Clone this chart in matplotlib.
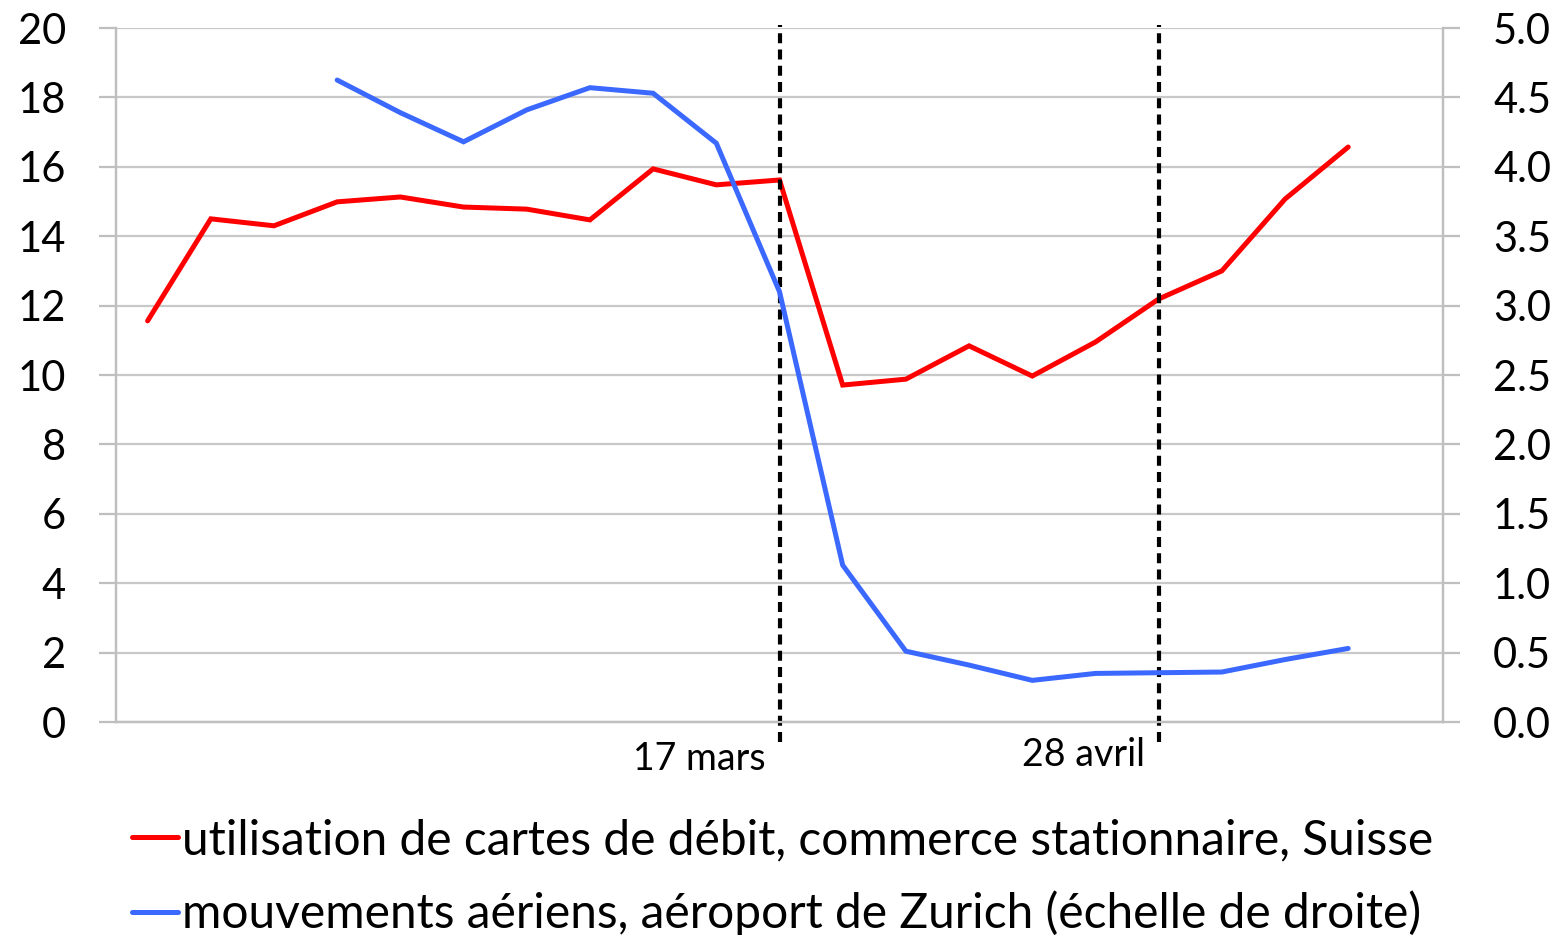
import numpy as np
import matplotlib
matplotlib.use("Agg")
import matplotlib.pyplot as plt
from matplotlib.ticker import FormatStrFormatter

plt.rcParams["font.family"] = ["Lato", "DejaVu Sans"]

# semaines (21 catégories, la dernière vide)
semaines = np.arange(21)
cartes_debit = [11.56, 14.5, 14.3, 14.99, 15.13, 14.84, 14.78, 14.47, 15.94, 15.48,
                15.62, 9.71, 9.88, 10.84, 9.97, 10.95, 12.19, 13.0, 15.07, 16.57, np.nan]
mouvements_aeriens = [np.nan, np.nan, np.nan, 4.625, 4.39, 4.18, 4.41, 4.57, 4.53, 4.17,
                      3.10, 1.13, 0.51, 0.41, 0.30, 0.35, 0.355, 0.36, 0.45, 0.53, np.nan]
evenements = [10, 16]
labels_evenements = ["17 mars", "28 avril"]
decalage_labels = [27, 24]

label_rouge = "utilisation de cartes de débit, commerce stationnaire, Suisse"
label_bleu = "mouvements aériens, aéroport de Zurich (échelle de droite)"

gris_axe = "#bfbfbf"
gris_grille = "#c8c8c8"

fig = plt.figure(figsize=(15.65, 9.35), dpi=100)
ax = fig.add_axes([116 / 1565, 1 - 722 / 935, (1443 - 116) / 1565, (722 - 28) / 935])
ax2 = ax.twinx()

l1, = ax.plot(semaines, cartes_debit, color="#ff0000", lw=3.6, solid_capstyle="round",
              solid_joinstyle="miter", zorder=3)
l2, = ax2.plot(semaines, mouvements_aeriens, color="#3b69ff", lw=3.6, solid_capstyle="round",
               solid_joinstyle="miter", zorder=3)

ax.set_xlim(-0.5, 20.5)
ax.set_ylim(0, 20)
ax.set_yticks(np.arange(0, 21, 2))
ax2.set_ylim(0, 5)
ax2.set_yticks(np.arange(0, 5.01, 0.5))
ax2.yaxis.set_major_formatter(FormatStrFormatter("%.1f"))

ax.grid(axis="y", color=gris_grille, lw=1.6)
ax.set_axisbelow(True)
ax.set_xticks([])

for a in (ax, ax2):
    a.spines["top"].set_visible(False)
    for s in ("left", "right", "bottom"):
        a.spines[s].set_color(gris_axe)
        a.spines[s].set_linewidth(1.6)
    a.tick_params(axis="y", length=12, width=1.6, color=gris_axe, pad=24,
                  labelsize=30, labelcolor="black")

for x, lab, dy in zip(evenements, labels_evenements, decalage_labels):
    ax.axvline(x, ymin=-0.029, ymax=1.005, color="black", lw=3,
               ls=(0, (2.4, 1.5)), clip_on=False, zorder=4)
    ax.annotate(lab, xy=(x, 0), xycoords=("data", "axes fraction"),
                xytext=(-10, -dy), textcoords="offset points",
                ha="right", va="center", fontsize=27)

fig.legend([l1, l2], [label_rouge, label_bleu], loc="upper left",
           bbox_to_anchor=(132 / 1565, 1 - 818 / 935), frameon=False, fontsize=34.5,
           handlelength=0.95, handletextpad=0.09, labelspacing=0.6,
           borderaxespad=0, borderpad=0)

fig.savefig("out.png", dpi=100)
